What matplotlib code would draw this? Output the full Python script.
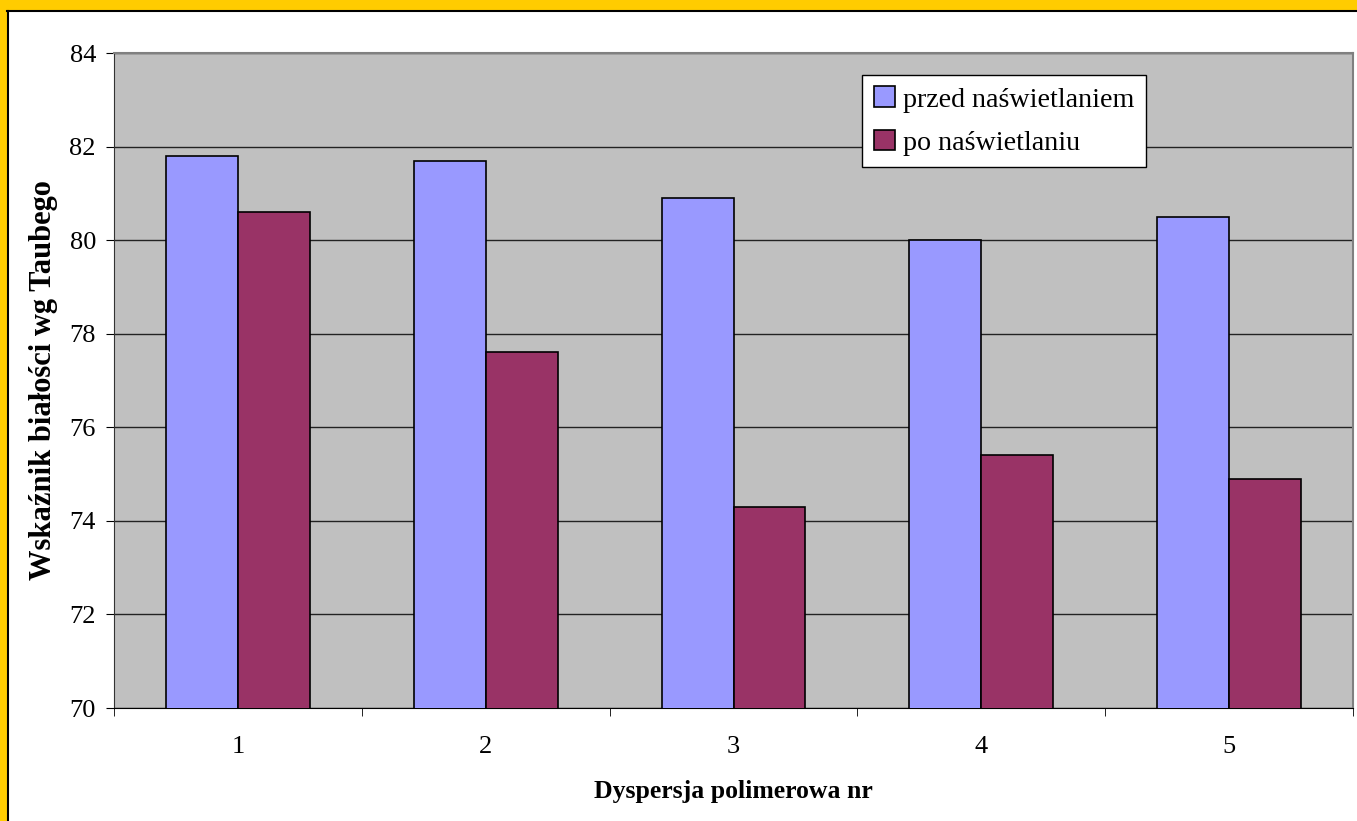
import numpy as np
import matplotlib.pyplot as plt
from matplotlib.patches import Rectangle
from matplotlib.lines import Line2D

plt.rcParams['font.family'] = 'serif'
plt.rcParams['font.serif'] = ['Liberation Serif', 'DejaVu Serif']

categories = ['1', '2', '3', '4', '5']
przed = [81.8, 81.7, 80.9, 80.0, 80.5]
po = [80.6, 77.6, 74.3, 75.4, 74.9]

W, H = 1357, 821
fig = plt.figure(figsize=(W / 100, H / 100), dpi=100)
fig.patch.set_facecolor('white')

# gold frame along the top and left edges
fig.patches.append(Rectangle((0, 1 - 10 / H), 1, 10 / H, transform=fig.transFigure,
                             facecolor='#FFCC00', edgecolor='none', zorder=0))
fig.patches.append(Rectangle((0, 0), 7 / W, 1, transform=fig.transFigure,
                             facecolor='#FFCC00', edgecolor='none', zorder=0))
fig.lines.append(Line2D([7 / W, 1], [1 - 11 / H, 1 - 11 / H], transform=fig.transFigure,
                        color='black', lw=1.5))
fig.lines.append(Line2D([7.5 / W, 7.5 / W], [0, 1 - 11 / H], transform=fig.transFigure,
                        color='black', lw=1.5))

ax = fig.add_axes([114 / W, (H - 708) / H, (1353 - 114) / W, (708 - 53) / H])
ax.set_facecolor('#C0C0C0')

x = np.arange(len(categories))
w = 0.29
ax.bar(x - w / 2, przed, w, color='#9999FF', edgecolor='black', linewidth=1.2,
       label='przed naświetlaniem', zorder=3)
ax.bar(x + w / 2, po, w, color='#993366', edgecolor='black', linewidth=1.2,
       label='po naświetlaniu', zorder=3)

ax.set_ylim(70, 84)
ax.set_yticks(np.arange(70, 85, 2))
ax.set_xlim(-0.5, len(categories) - 0.5)
ax.set_xticks(x)
ax.set_xticklabels(categories)
ax.set_xticks(np.arange(-0.5, len(categories)), minor=True)
ax.tick_params(axis='x', which='major', length=0, pad=20, labelsize=19)
ax.tick_params(axis='x', which='minor', length=6, direction='out', color='black')
ax.tick_params(axis='y', length=6, direction='out', labelsize=19, pad=7)

ax.yaxis.grid(True, color='#222222', linewidth=1)
ax.set_axisbelow(True)

for side in ['top', 'right']:
    ax.spines[side].set_color('#808080')
    ax.spines[side].set_linewidth(1.5)
ax.spines['left'].set_color('#333333')
ax.spines['bottom'].set_color('black')

ax.set_xlabel('Dyspersja polimerowa nr', fontsize=18.5, fontweight='bold', labelpad=16)
ax.set_ylabel('Wskaźnik białości wg Taubego', fontsize=22, fontweight='bold', labelpad=8)

leg = ax.legend(loc='upper left', bbox_to_anchor=(0.604, 0.966), borderaxespad=0,
                fontsize=20.2, fancybox=False, edgecolor='black', framealpha=1,
                handlelength=0.75, handleheight=0.75, handletextpad=0.3,
                labelspacing=0.62, borderpad=0.4)
leg.get_frame().set_linewidth(1)

fig.savefig('out.png', dpi=100)
